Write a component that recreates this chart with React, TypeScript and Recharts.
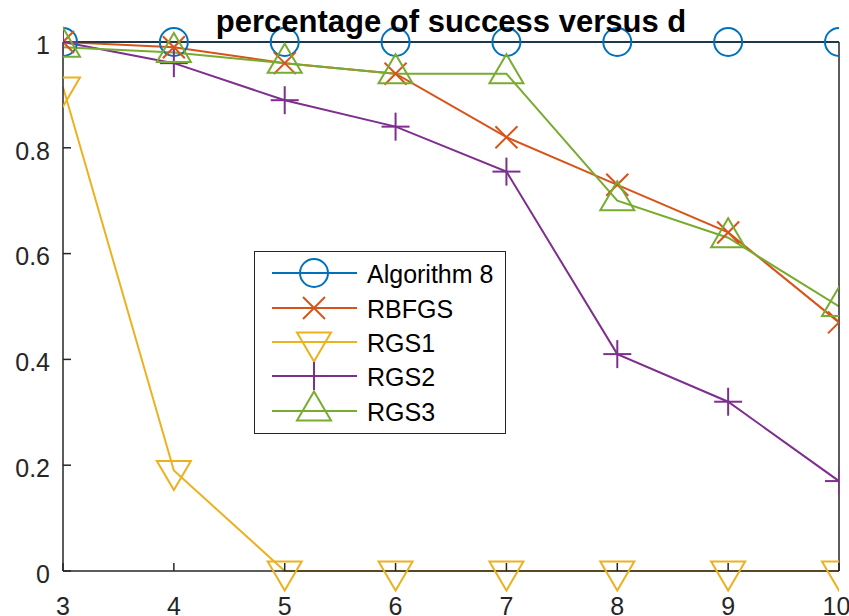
import React from 'react';
import { LineChart, Line, XAxis, YAxis, Legend } from 'recharts';

const xValues = [3, 4, 5, 6, 7, 8, 9, 10];
const algorithm8 = [1, 1, 1, 1, 1, 1, 1, 1];
const rbfgs = [1.0, 0.99, 0.96, 0.94, 0.82, 0.73, 0.64, 0.47];
const rgs1 = [0.915, 0.19, 0, 0, 0, 0, 0, 0];
const rgs2 = [1.0, 0.96, 0.89, 0.84, 0.755, 0.41, 0.32, 0.17];
const rgs3 = [0.99, 0.98, 0.96, 0.94, 0.94, 0.7, 0.63, 0.5];
const yTicks = [0, 0.2, 0.4, 0.6, 0.8, 1];
const titleText = 'percentage of success versus d';

type Kind = 'circle' | 'cross' | 'tridown' | 'plus' | 'triup';

const seriesDefs: { key: string; name: string; color: string; kind: Kind }[] = [
  { key: 'a8', name: 'Algorithm 8', color: '#0072BD', kind: 'circle' },
  { key: 'rbfgs', name: 'RBFGS', color: '#D95319', kind: 'cross' },
  { key: 'rgs1', name: 'RGS1', color: '#EDB120', kind: 'tridown' },
  { key: 'rgs2', name: 'RGS2', color: '#7E2F8E', kind: 'plus' },
  { key: 'rgs3', name: 'RGS3', color: '#77AC30', kind: 'triup' },
];

const data = xValues.map((x, i) => ({
  x,
  a8: algorithm8[i],
  rbfgs: rbfgs[i],
  rgs1: rgs1[i],
  rgs2: rgs2[i],
  rgs3: rgs3[i],
}));

const FONT = '"Liberation Sans", Arial, Helvetica, sans-serif';
const AX = '#262626';

function Marker({ kind, cx, cy, color }: { kind: Kind; cx: number; cy: number; color: string }) {
  const sw = 2;
  if (kind === 'circle') {
    return <circle cx={cx} cy={cy} r={14} fill="none" stroke={color} strokeWidth={sw} />;
  }
  if (kind === 'cross') {
    const s = 11;
    return (
      <g stroke={color} strokeWidth={sw}>
        <line x1={cx - s} y1={cy - s} x2={cx + s} y2={cy + s} />
        <line x1={cx - s} y1={cy + s} x2={cx + s} y2={cy - s} />
      </g>
    );
  }
  if (kind === 'plus') {
    const s = 14;
    return (
      <g stroke={color} strokeWidth={sw}>
        <line x1={cx - s} y1={cy} x2={cx + s} y2={cy} />
        <line x1={cx} y1={cy - s} x2={cx} y2={cy + s} />
      </g>
    );
  }
  const hw = 17;
  if (kind === 'tridown') {
    const pts = `${cx - hw},${cy - 9.5} ${cx + hw},${cy - 9.5} ${cx},${cy + 19.5}`;
    return <polygon points={pts} fill="none" stroke={color} strokeWidth={sw} />;
  }
  const pts = `${cx - hw},${cy + 9.5} ${cx + hw},${cy + 9.5} ${cx},${cy - 19.5}`;
  return <polygon points={pts} fill="none" stroke={color} strokeWidth={sw} />;
}

function LegendBox() {
  const rows = [22, 57, 91, 125, 160];
  return (
    <svg width={252} height={183} style={{ display: 'block' }}>
      <rect x={0.5} y={0.5} width={251} height={182} fill="#fff" stroke={AX} strokeWidth={1} />
      {seriesDefs.map((s, i) => (
        <g key={s.key}>
          <line x1={18} y1={rows[i]} x2={103} y2={rows[i]} stroke={s.color} strokeWidth={2} />
          <Marker kind={s.kind} cx={60} cy={rows[i]} color={s.color} />
          <text x={113} y={rows[i] + 10} fontFamily={FONT} fontSize={25} fill="#000">
            {s.name}
          </text>
        </g>
      ))}
    </svg>
  );
}

export default function App() {
  return (
    <div style={{ position: 'absolute', left: 0, top: 0, width: 849, height: 616, background: '#fff' }}>
      <LineChart width={849} height={616} data={data} margin={{ top: 0, right: 0, bottom: 0, left: 0 }}>
        <XAxis
          dataKey="x"
          type="number"
          domain={[3, 10]}
          ticks={xValues}
          height={45}
          stroke={AX}
          strokeWidth={1.5}
          tickSize={-8}
          tickMargin={34}
          tick={{ fontSize: 25, fill: AX, fontFamily: FONT }}
          allowDataOverflow
        />
        <XAxis
          xAxisId="top"
          dataKey="x"
          type="number"
          orientation="top"
          domain={[3, 10]}
          ticks={xValues}
          height={42}
          stroke={AX}
          strokeWidth={1.5}
          tickSize={-8}
          tick={false}
        />
        <YAxis
          type="number"
          domain={[0, 1]}
          ticks={yTicks}
          width={63}
          stroke={AX}
          strokeWidth={1.5}
          tickSize={-8}
          tickMargin={21}
          tick={{ fontSize: 25, fill: AX, fontFamily: FONT, dy: 3 }}
        />
        <YAxis
          yAxisId="right"
          orientation="right"
          type="number"
          domain={[0, 1]}
          ticks={yTicks}
          width={10}
          stroke={AX}
          strokeWidth={1.5}
          tickSize={-8}
          tick={false}
        />
        <Legend
          layout="vertical"
          align="center"
          verticalAlign="middle"
          content={() => <LegendBox />}
          wrapperStyle={{ left: 254, top: 251, width: 252, height: 183 }}
        />
        {seriesDefs.map((s) => (
          <Line
            key={s.key}
            dataKey={s.key}
            name={s.name}
            stroke={s.color}
            strokeWidth={2}
            isAnimationActive={false}
            dot={(p: any) => (
              <Marker key={`${s.key}-${p.index}`} kind={s.kind} cx={p.cx} cy={p.cy} color={s.color} />
            )}
            activeDot={false}
          />
        ))}
      </LineChart>
      <div
        style={{
          position: 'absolute',
          left: 63,
          width: 776,
          top: 6,
          textAlign: 'center',
          fontFamily: FONT,
          fontWeight: 'bold',
          fontSize: 31,
          lineHeight: '31px',
          color: '#000',
          whiteSpace: 'nowrap',
        }}
      >
        {titleText}
      </div>
    </div>
  );
}
